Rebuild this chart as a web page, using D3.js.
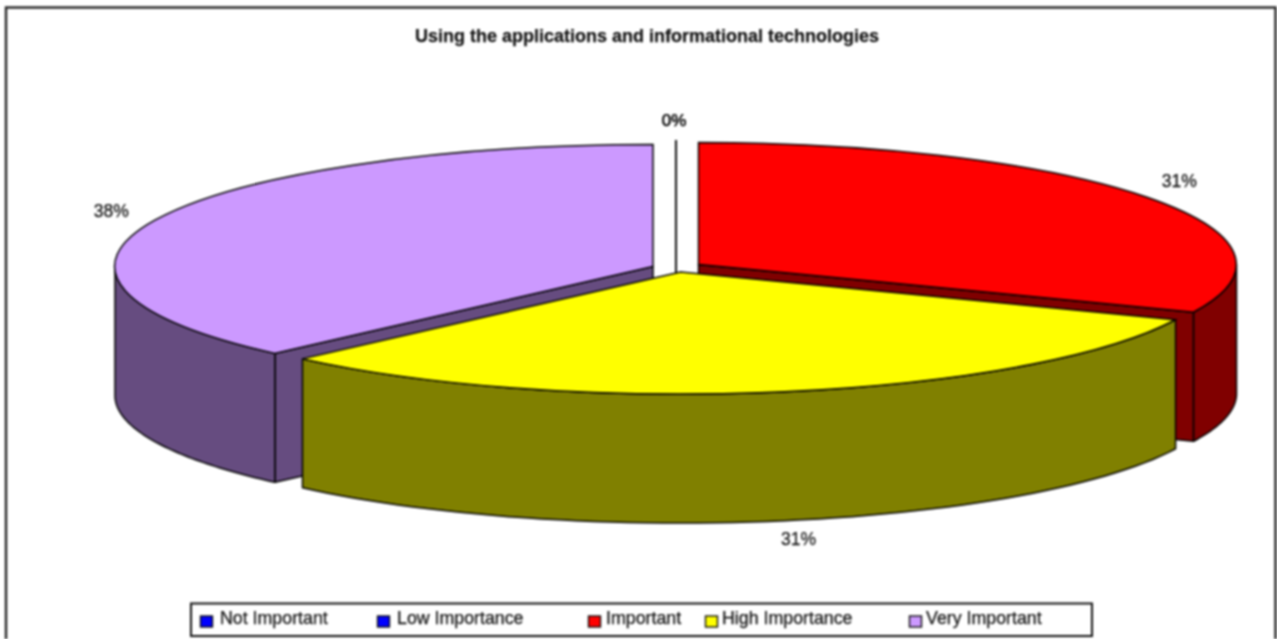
<!DOCTYPE html>
<html>
<head>
<meta charset="utf-8">
<script src="https://cdnjs.cloudflare.com/ajax/libs/d3/7.8.5/d3.min.js"></script>
<style>
  html, body { margin: 0; padding: 0; background: #fff; overflow: hidden; }
  svg { display: block; filter: blur(0.8px); }
  text { font-family: "Liberation Sans", Arial, sans-serif; fill: #111; stroke: #111; stroke-width: 0.25; }
  .edge { stroke: #000; stroke-width: 1.5; stroke-linejoin: round; }
</style>
</head>
<body>
<div id="chart"></div>
<script>
var title = "Using the applications and informational technologies";
var categories = ["Not Important", "Low Importance", "Important", "High Importance", "Very Important"];
var values = [0, 0, 31.4, 31.0, 37.6];
var topColours = ["#0000ff", "#0000ff", "#ff0000", "#ffff00", "#cc99ff"];
var wallColours = ["#000080", "#000080", "#800000", "#808000", "#664c80"];

var width = 1277;
var height = 639;

// the pie
var rx = 538;
var ry = 122;
var depth = 129;

// exploded centre of each slice
var centres = [[676, 262], [676, 262], [698.5, 264.5], [680.5, 272], [653, 266.5]];

// nudges for the percent labels, from the rim of each slice
var labelNudge = [[-2, -20], [-2, -20], [32, -16], [14, 18], [-44, -9]];

var legendX = [200, 377, 588, 705, 909];
var legendTextX = [220, 397, 606, 722, 926];

var svg = d3
  .select("#chart")
  .append("svg")
  .attr("width", width)
  .attr("height", height);

// frame
svg
  .append("rect")
  .attr("x", 6)
  .attr("y", 7.5)
  .attr("width", 1269.5)
  .attr("height", 660)
  .attr("fill", "#fff")
  .attr("stroke", "#222")
  .attr("stroke-width", 2.4);

svg
  .append("text")
  .attr("x", 647)
  .attr("y", 42)
  .attr("text-anchor", "middle")
  .attr("font-size", 18)
  .attr("font-weight", "bold")
  .text(title);

var pie = d3
  .pie()
  .sort(null)
  .value(function (d) {
    return d;
  });

var slices = pie(values).map(function (s, i) {
  s.index = i;
  s.mid = (s.startAngle + s.endAngle) / 2;
  s.x = centres[i][0];
  s.y = centres[i][1];
  return s;
});

function rim(s, a, dz) {
  return [s.x + rx * Math.sin(a), s.y - ry * Math.cos(a) + (dz || 0)];
}

var line = d3.line();
var topArc = d3.arc().innerRadius(0).outerRadius(1);

// radial face at the end of a slice, apex to rim
function facePath(s, a) {
  return (
    line([[s.x, s.y], rim(s, a), rim(s, a, depth), [s.x, s.y + depth]]) + "Z"
  );
}

// front wall between two angles
function wallPath(s, a0, a1) {
  var angles = d3.range(0, 61).map(function (i) {
    return a0 + ((a1 - a0) * i) / 60;
  });
  var upper = angles.map(function (a) {
    return rim(s, a);
  });
  var lower = angles
    .slice()
    .reverse()
    .map(function (a) {
      return rim(s, a, depth);
    });
  return line(upper.concat(lower)) + "Z";
}

var pieGroup = svg.append("g").attr("id", "pie");

// painted back to front: zero slices, purple, red, yellow
[0, 1, 4, 2, 3].forEach(function (i) {
  var s = slices[i];
  var g = pieGroup.append("g");

  if (s.value === 0) {
    g.append("path")
      .attr("class", "edge")
      .attr("fill", "none")
      .attr("d", line([rim(s, 0), [s.x, s.y + depth]]));
    return;
  }

  var a0 = s.startAngle;
  var a1 = s.endAngle;

  // faces that can be seen from the front
  if (Math.sin(a1) > 0 && Math.cos(a1) < 0) {
    g.append("path")
      .attr("class", "edge")
      .attr("fill", wallColours[i])
      .attr("d", facePath(s, a1));
  }
  if (Math.sin(a0) < 0 && Math.cos(a0) < 0) {
    g.append("path")
      .attr("class", "edge")
      .attr("fill", wallColours[i])
      .attr("d", facePath(s, a0));
  }

  var w0 = Math.max(a0, Math.PI / 2);
  var w1 = Math.min(a1, (3 * Math.PI) / 2);
  if (w1 > w0) {
    g.append("path")
      .attr("class", "edge")
      .attr("fill", wallColours[i])
      .attr("d", wallPath(s, w0, w1));
  }

  g.append("path")
    .attr("fill", topColours[i])
    .attr("stroke", "#000")
    .attr("stroke-width", 1.5)
    .attr("vector-effect", "non-scaling-stroke")
    .attr(
      "transform",
      "translate(" + s.x + "," + s.y + ") scale(" + rx + "," + ry + ")"
    )
    .attr("d", topArc(s));
});

// percent labels
svg
  .append("g")
  .selectAll("text")
  .data(slices)
  .enter()
  .append("text")
  .attr("x", function (s, i) {
    return rim(s, s.mid)[0] + labelNudge[i][0];
  })
  .attr("y", function (s, i) {
    var front = Math.cos(s.mid) < 0 ? depth : 0;
    return rim(s, s.mid, front)[1] + labelNudge[i][1] + 6;
  })
  .attr("text-anchor", "middle")
  .attr("font-size", function (s) {
    return s.value === 0 ? 17 : 17.5;
  })
  .text(function (s) {
    return Math.round(s.value) + "%";
  });

// legend
var legendPos = d3.scaleOrdinal().domain(categories).range(legendX);
var legendTextPos = d3.scaleOrdinal().domain(categories).range(legendTextX);

var legend = svg.append("g").attr("id", "legend");

legend
  .append("rect")
  .attr("x", 191)
  .attr("y", 603.5)
  .attr("width", 901)
  .attr("height", 32.5)
  .attr("fill", "#fff")
  .attr("stroke", "#111")
  .attr("stroke-width", 2);

legend
  .selectAll("rect.key")
  .data(categories)
  .enter()
  .append("rect")
  .attr("class", "key")
  .attr("x", function (d) {
    return legendPos(d) + 0.5;
  })
  .attr("y", 616)
  .attr("width", 12)
  .attr("height", 11)
  .attr("fill", function (d, i) {
    return topColours[i];
  })
  .attr("stroke", "#111")
  .attr("stroke-width", 1.4);

legend
  .selectAll("text")
  .data(categories)
  .enter()
  .append("text")
  .attr("x", function (d) {
    return legendTextPos(d);
  })
  .attr("y", 624)
  .attr("font-size", 17.8)
  .text(function (d) {
    return d;
  });
</script>
</body>
</html>
